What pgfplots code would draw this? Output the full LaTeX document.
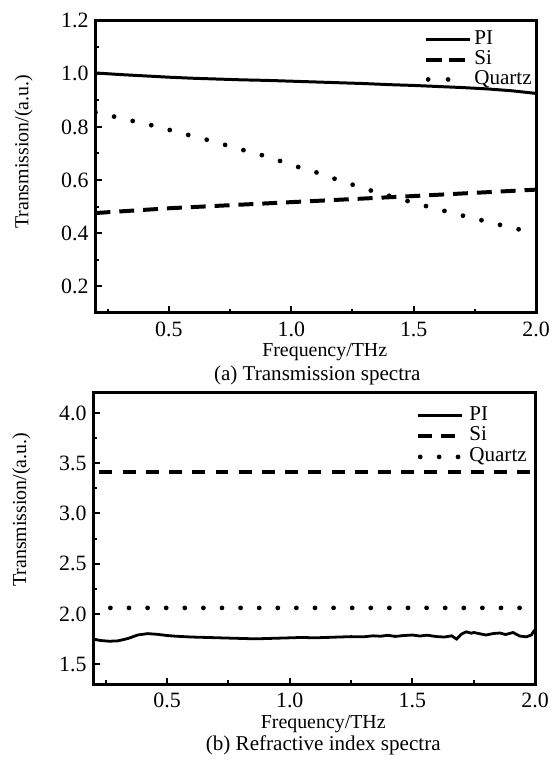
\documentclass[border=0pt]{standalone}
\usepackage{fontspec}
\setmainfont{Liberation Serif}
\usepackage{pgfplots}
\pgfplotsset{compat=1.18}

\pgfplotsset{
  panel/.style={
    scale only axis,
    xmin=0.2, xmax=2.0,
    axis line style={line width=1.5pt},
    tick style={line width=1pt, black},
    tick align=inside,
    tick pos=left,
    major tick length=3.3pt,
    minor tick length=2pt,
    xtick={0.5,1.0,1.5,2.0},
    minor xtick={0.25,0.75,1.25,1.75},
    /pgf/number format/assume math mode=true,
    /pgf/number format/fixed,
    /pgf/number format/fixed zerofill,
    /pgf/number format/precision=1,
    tick label style={font=\fontsize{11}{12}\selectfont},
    x tick label style={yshift=-1pt},
    label style={font=\fontsize{10.6}{12}\selectfont},
    xlabel={Frequency/THz},
    every axis x label/.style={at={(axis description cs:0.5,0)}, anchor=base,
      yshift=-22pt, xshift=4.5pt},
    ylabel={Transmission/(a.u.)},
    every axis y label/.style={at={(axis description cs:-0.142,0.5)}, rotate=90,
      anchor=south, inner sep=0pt},
    legend cell align=left,
    legend image code/.code={\draw[#1] (0pt,0pt) -- (22pt,0pt);},
    legend style={draw=none, fill=none, inner sep=0pt,
      font=\fontsize{10.6}{12}\selectfont,
      nodes={inner sep=0pt, text height=7.5pt, text depth=2.5pt}},
  },
  pi/.style={black, line width=1.5pt},
  si/.style={black, line width=2pt, dash pattern=on 7.5pt off 4.5pt},
  qz/.style={black, line width=2.4pt, line cap=round, dash pattern=on 0pt off 9.6pt},
}

\begin{document}
\begin{tikzpicture}
\path (0pt,0pt) rectangle (277pt,-381pt);

\begin{axis}[panel, name=top,
  at={(48pt,-10.35pt)}, anchor=north west,
  width=221.5pt, height=147pt,
  ymin=0.1, ymax=1.2,
  ytick={0.2,0.4,0.6,0.8,1.0,1.2},
  minor ytick={0.3,0.5,0.7,0.9,1.1},
  every axis y label/.append style={at={(axis description cs:-0.142,0.551)}},
  legend style={at={(rel axis cs:1,1)}, anchor=north east,
    xshift=-2pt, yshift=-4.4pt, row sep=0pt,
    /tikz/every odd column/.style={column sep=1pt}},
]
\addplot[pi, forget plot] coordinates {
(0.2,1.003) (0.3,0.997) (0.4,0.992) (0.5,0.987) (0.6,0.983) (0.7,0.980)
(0.8,0.977) (0.9,0.975) (1.0,0.972) (1.1,0.969) (1.2,0.966) (1.3,0.963)
(1.4,0.959) (1.5,0.956) (1.6,0.952) (1.7,0.948) (1.8,0.943) (1.9,0.936)
(2.0,0.926)};
\addplot[si, forget plot] coordinates {
(0.2,0.476) (0.5,0.494) (1.0,0.517) (1.5,0.540) (2.0,0.564)};
\addplot[qz, forget plot] coordinates {
(0.2,0.855) (0.28,0.838) (0.354,0.822) (0.43,0.806) (0.505,0.788)
(0.582,0.769) (0.658,0.751) (0.735,0.731) (0.811,0.711) (0.887,0.692)
(0.96,0.670) (1.036,0.647) (1.113,0.626) (1.189,0.601) (1.266,0.578)
(1.341,0.556) (1.418,0.536) (1.494,0.516) (1.571,0.497) (1.647,0.479)
(1.723,0.461) (1.799,0.444) (1.876,0.426) (1.951,0.410) (2.0,0.400)};
\addlegendimage{pi}
\addlegendentry{PI}
\addlegendimage{black, line width=2pt, dash pattern=on 8pt off 3.5pt}
\addlegendentry{Si}
\addlegendimage{black, line width=2.4pt, line cap=round, dash pattern=on 0pt off 10pt,
  shorten <=1pt, shorten >=10pt}
\addlegendentry{Quartz}
\end{axis}
\node[anchor=base, font=\fontsize{10.6}{12}\selectfont]
  at ([xshift=0.75pt, yshift=-34pt]top.south) {(a) Transmission spectra};

\begin{axis}[panel, name=bot,
  at={(47pt,-197.5pt)}, anchor=north west,
  width=222pt, height=146.5pt,
  ymin=1.3, ymax=4.2,
  ytick={1.5,2.0,2.5,3.0,3.5,4.0},
  minor ytick={1.75,2.25,2.75,3.25,3.75},
  every axis y label/.append style={at={(axis description cs:-0.142,0.599)}},
  legend style={at={(rel axis cs:1,1)}, anchor=north east,
    xshift=-4pt, yshift=-6pt, row sep=0.5pt,
    /tikz/every odd column/.style={column sep=2.5pt}},
]
\addplot[pi, line width=1.4pt, forget plot] coordinates {
(0.20,1.748) (0.23,1.735) (0.265,1.728) (0.30,1.732) (0.34,1.755)
(0.38,1.790) (0.421,1.804) (0.46,1.797) (0.50,1.785) (0.536,1.778)
(0.60,1.770) (0.70,1.763) (0.80,1.756) (0.861,1.752) (0.93,1.757)
(1.00,1.762) (1.05,1.766) (1.10,1.762) (1.15,1.766) (1.20,1.770)
(1.25,1.774) (1.30,1.772) (1.34,1.782) (1.37,1.778) (1.40,1.787)
(1.43,1.776) (1.46,1.784) (1.50,1.790) (1.53,1.780) (1.56,1.788)
(1.60,1.774) (1.63,1.770) (1.66,1.782) (1.68,1.750) (1.70,1.800)
(1.72,1.822) (1.74,1.808) (1.75,1.815) (1.78,1.800) (1.80,1.790)
(1.83,1.805) (1.857,1.810) (1.88,1.795) (1.91,1.815) (1.937,1.780)
(1.964,1.772) (1.985,1.790) (1.995,1.830) (2.0,1.840)};
\addplot[si, dash pattern=on 6.5pt off 5.17pt, dash phase=8.67pt, forget plot]
  coordinates {(0.2,3.41) (2.0,3.41)};
\addplot[qz, dash pattern=on 0pt off 9.35pt, dash phase=0.85pt, forget plot]
  coordinates {(0.2,2.06) (2.0,2.06)};
\addlegendimage{pi, line width=1.4pt}
\addlegendentry{PI}
\addlegendimage{black, line width=1.6pt, dash pattern=on 7pt off 4.5pt}
\addlegendentry{Si}
\addlegendimage{black, line width=2.4pt, line cap=round, dash pattern=on 0pt off 9.5pt,
  shorten <=1pt}
\addlegendentry{Quartz}
\end{axis}
\node[anchor=base, font=\fontsize{10.6}{12}\selectfont]
  at ([xshift=4.5pt, yshift=-33.5pt]bot.south) {(b) Refractive index spectra};
\end{tikzpicture}
\end{document}
